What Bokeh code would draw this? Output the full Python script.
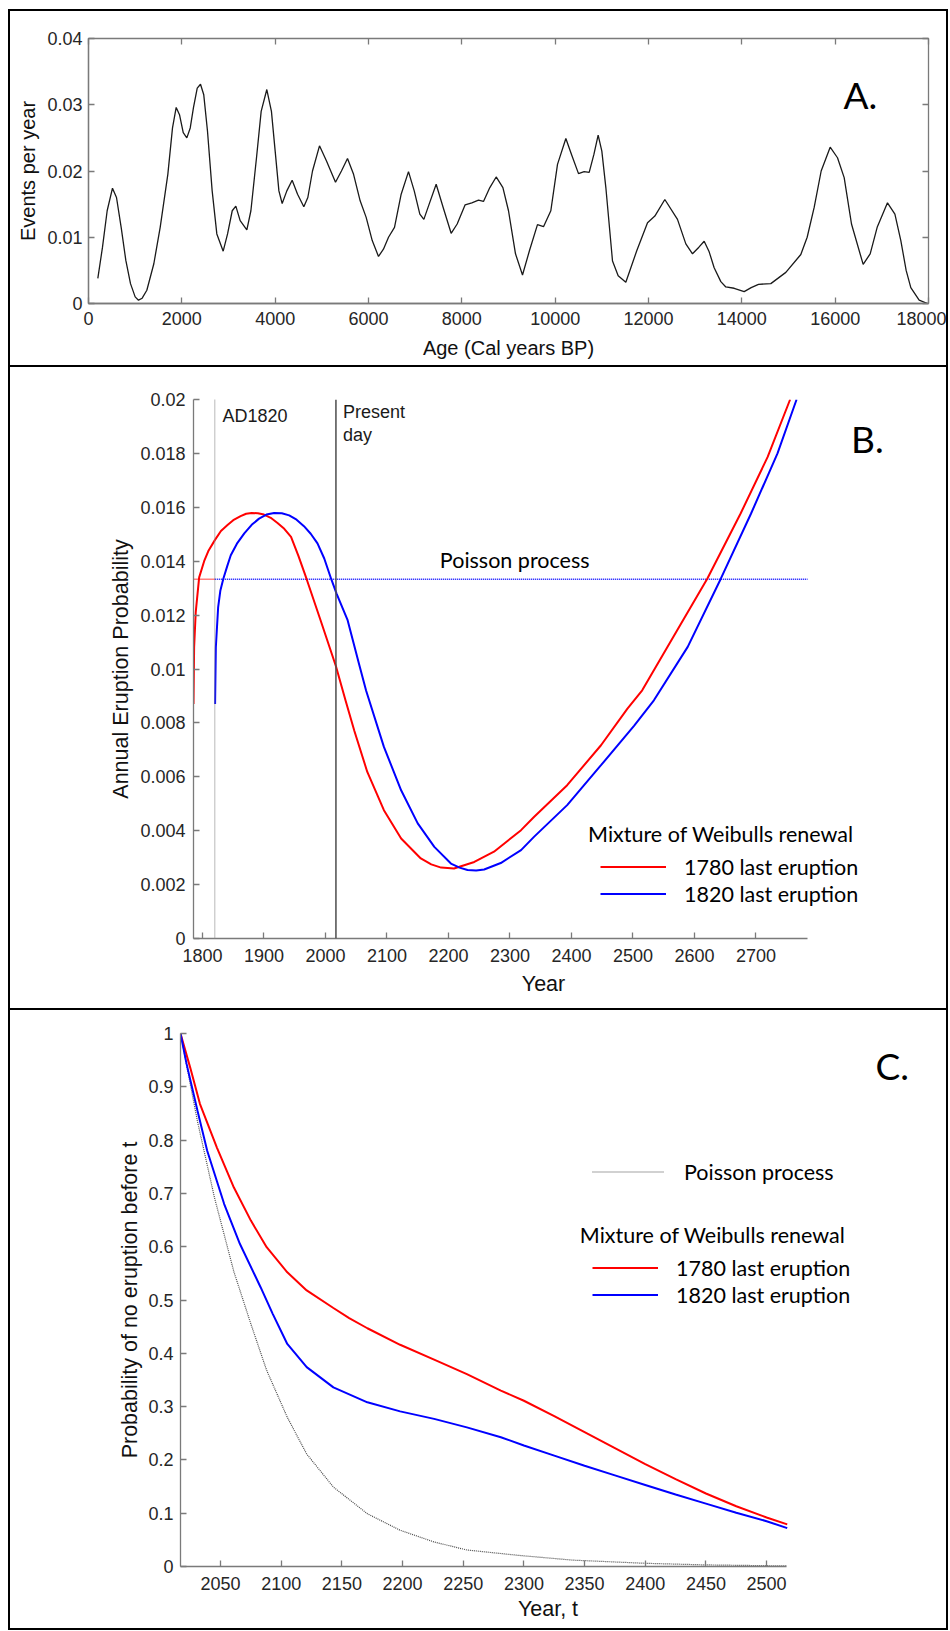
from bokeh.plotting import figure
from bokeh.models import (Range1d, FixedTicker, CustomJSTickFormatter, LinearAxis,
                          Span, Label, Legend, LegendItem)
from bokeh.layouts import column
from bokeh.embed import file_html
from bokeh.resources import INLINE

# ---------------- data ----------------
# Panel A: events per year vs age
a_age = [200, 300, 400, 514, 600, 700, 800, 900, 1000, 1071, 1150, 1250, 1400, 1536, 1700, 1800,
         1879, 1950, 2030, 2107, 2180, 2250, 2330, 2400, 2470, 2550, 2650, 2750, 2886, 2980,
         3080, 3157, 3250, 3393, 3480, 3600, 3700, 3821, 3920, 4000, 4080, 4150, 4250, 4364,
         4480, 4614, 4700, 4800, 4950, 5100, 5293, 5420, 5550, 5680, 5821, 5950, 6080, 6214,
         6320, 6429, 6557, 6700, 6857, 6980, 7100, 7186, 7300, 7450, 7600, 7771, 7900, 8071,
         8214, 8357, 8464, 8600, 8736, 8880, 9000, 9150, 9300, 9450, 9621, 9750, 9907, 10050,
         10229, 10350, 10500, 10621, 10729, 10830, 10921, 11000, 11086, 11229, 11350, 11514,
         11750, 11979, 12136, 12350, 12621, 12800, 12943, 13080, 13193, 13300, 13407, 13550,
         13657, 13836, 14050, 14200, 14357, 14621, 14943, 15264, 15400, 15550, 15700, 15893,
         16050, 16193, 16350, 16600, 16750, 16900, 17121, 17280, 17407, 17521, 17621, 17800, 17979]
a_rate = [0.0038, 0.0085, 0.0140, 0.0174, 0.0160, 0.0115, 0.0065, 0.0030, 0.0010, 0.0005, 0.0008,
          0.0020, 0.0060, 0.0115, 0.0195, 0.0265, 0.0296, 0.0285, 0.0258, 0.0250, 0.0265, 0.0296,
          0.0325, 0.0331, 0.0315, 0.0260, 0.0170, 0.0105, 0.0079, 0.0105, 0.0140, 0.0147, 0.0125,
          0.0111, 0.0140, 0.0220, 0.0290, 0.0323, 0.0290, 0.0230, 0.0170, 0.0151, 0.0170, 0.0186,
          0.0165, 0.0146, 0.0160, 0.0200, 0.0238, 0.0215, 0.0183, 0.0200, 0.0219, 0.0195, 0.0155,
          0.0130, 0.0095, 0.0071, 0.0082, 0.0100, 0.0115, 0.0165, 0.0199, 0.0170, 0.0135, 0.0127,
          0.0150, 0.0180, 0.0145, 0.0106, 0.0120, 0.0149, 0.0152, 0.0156, 0.0154, 0.0175, 0.0191,
          0.0175, 0.0140, 0.0075, 0.0043, 0.0080, 0.0119, 0.0116, 0.0140, 0.0210, 0.0249, 0.0225,
          0.0196, 0.0199, 0.0198, 0.0225, 0.0254, 0.0230, 0.0175, 0.0064, 0.0042, 0.0032, 0.0080,
          0.0122, 0.0132, 0.0157, 0.0127, 0.0090, 0.0075, 0.0085, 0.0094, 0.0078, 0.0054, 0.0033,
          0.0025, 0.0023, 0.0018, 0.0024, 0.0029, 0.0030, 0.0047, 0.0074, 0.0100, 0.0145, 0.0200,
          0.0236, 0.0220, 0.0190, 0.0120, 0.0059, 0.0075, 0.0115, 0.0152, 0.0135, 0.0095, 0.0050,
          0.0024, 0.0005, 0.0000]
a_xticks = [0, 2000, 4000, 6000, 8000, 10000, 12000, 14000, 16000, 18000]
a_yticks = [0, 0.01, 0.02, 0.03, 0.04]

# Panel B: annual eruption probability
b_red_year = [1785.4, 1786.4, 1789, 1794.6, 1802.7, 1810, 1820.6, 1830, 1840.7, 1850, 1862, 1871,
              1880, 1890, 1900, 1911, 1922, 1933, 1944, 1956, 1969, 1992, 2017, 2033, 2047, 2068,
              2095, 2123, 2155, 2172, 2188, 2209, 2242, 2274, 2318, 2339, 2393, 2448, 2491, 2515,
              2556, 2621, 2675, 2719, 2755.5]
b_red_prob = [0.0087, 0.0108, 0.0121, 0.0134, 0.0140, 0.0144, 0.0148, 0.01512, 0.01534, 0.01552,
              0.01567, 0.01576, 0.01579, 0.01578, 0.01573, 0.01561, 0.01542, 0.0152, 0.0149,
              0.0142, 0.01336, 0.01181, 0.0101, 0.0088, 0.0077, 0.00618, 0.00476, 0.00371,
              0.00297, 0.00275, 0.00263, 0.0026, 0.00284, 0.00322, 0.00402, 0.00451, 0.00569,
              0.00717, 0.00853, 0.00921, 0.01082, 0.01336, 0.01577, 0.01787, 0.0200]
b_blue_year = [1820.5, 1821.7, 1825.5, 1829, 1834, 1840, 1846, 1856, 1868, 1880, 1892, 1904, 1916.5,
               1929, 1941, 1953, 1965, 1976, 1987, 1998, 2009, 2018, 2036, 2055, 2066, 2095, 2123,
               2150, 2177, 2204, 2218, 2231, 2245, 2258, 2285, 2318, 2339, 2393, 2448, 2502, 2534,
               2589, 2643, 2692, 2735, 2766]
b_blue_prob = [0.0087, 0.0108, 0.0123, 0.0129, 0.01336, 0.0138, 0.01422, 0.01465, 0.01503, 0.01535,
               0.01558, 0.01573, 0.01579, 0.01578, 0.0157, 0.01554, 0.0153, 0.01502, 0.01466,
               0.0141, 0.01336, 0.0128, 0.01181, 0.01015, 0.0092, 0.00711, 0.0055, 0.00427, 0.0034,
               0.00278, 0.00263, 0.00254, 0.00252, 0.00256, 0.0028, 0.00328, 0.00377, 0.00495,
               0.00643, 0.0079, 0.00884, 0.01082, 0.01336, 0.01577, 0.0180, 0.0200]
b_poisson_rate = 0.01333
b_poisson_red_x = [1785.4, 1820]
b_poisson_blue_x = [1820, 2783.7]
b_ad1820 = 1820
b_present_day = 2017
b_xticks = [1800, 1900, 2000, 2100, 2200, 2300, 2400, 2500, 2600, 2700]
b_yticks = [0, 0.002, 0.004, 0.006, 0.008, 0.01, 0.012, 0.014, 0.016, 0.018, 0.02]

# Panel C: probability of no eruption before t
c_red_year = [2017, 2025, 2033, 2047, 2061, 2075, 2088, 2105, 2121, 2143, 2156, 2171, 2198, 2226,
              2253, 2281, 2300, 2325, 2350, 2375, 2400, 2425, 2450, 2475, 2500, 2517]
c_red = [1.0, 0.936, 0.868, 0.786, 0.711, 0.649, 0.599, 0.552, 0.518, 0.485, 0.466, 0.447, 0.416,
         0.388, 0.361, 0.330, 0.311, 0.282, 0.252, 0.222, 0.192, 0.164, 0.137, 0.113, 0.092, 0.079]
c_blue_year = [2017, 2022, 2031, 2039, 2053, 2066, 2083, 2093, 2105, 2121, 2143, 2171, 2198, 2226,
               2253, 2281, 2300, 2325, 2350, 2375, 2400, 2425, 2450, 2475, 2500, 2517]
c_blue = [1.0, 0.943, 0.855, 0.780, 0.680, 0.605, 0.524, 0.474, 0.4175, 0.374, 0.336, 0.308, 0.291,
          0.277, 0.261, 0.2425, 0.227, 0.208, 0.189, 0.171, 0.153, 0.135, 0.118, 0.101, 0.085, 0.072]
c_pois_year = [2017, 2031, 2045, 2061, 2075, 2088, 2105, 2121, 2143, 2171, 2198, 2226, 2253, 2295,
               2340, 2400, 2450, 2517]
c_pois = [1.0, 0.835, 0.692, 0.553, 0.455, 0.368, 0.280, 0.211, 0.149, 0.099, 0.068, 0.046, 0.031,
          0.021, 0.012, 0.006, 0.003, 0.001]
c_xticks = [2050, 2100, 2150, 2200, 2250, 2300, 2350, 2400, 2450, 2500]
c_yticks = [0, 0.1, 0.2, 0.3, 0.4, 0.5, 0.6, 0.7, 0.8, 0.9, 1.0]

# ---------------- styling helpers ----------------
AXIS_GRAY = "#7a7a7a"
TICK_FONT = "Liberation Sans"
CAL_FONT = "Lato"
RED = "#ff0000"
BLUE = "#0000ff"


def num_fmt():
    return CustomJSTickFormatter(code="return String(parseFloat(tick.toFixed(6)));")


def base_fig(width, height, xr, yr, left, right, top, bottom):
    p = figure(width=width, height=height, x_range=Range1d(*xr), y_range=Range1d(*yr),
               toolbar_location=None, output_backend="svg", title=None,
               min_border_left=left, min_border_right=right,
               min_border_top=top, min_border_bottom=bottom,
               styles={"background-color": "white"})
    p.frame_align = False
    p.grid.visible = False
    p.outline_line_color = None
    p.background_fill_color = "white"
    p.border_fill_color = "white"
    return p


def style_axis(ax, ticks, standoff, label, label_size, label_standoff):
    ax.ticker = FixedTicker(ticks=ticks, minor_ticks=[])
    ax.formatter = num_fmt()
    ax.axis_line_color = AXIS_GRAY
    ax.axis_line_width = 1.3
    ax.major_tick_line_color = AXIS_GRAY
    ax.major_tick_line_width = 1.3
    ax.major_tick_in = 6
    ax.major_tick_out = 0
    ax.minor_tick_line_color = None
    ax.major_label_text_font = TICK_FONT
    ax.major_label_text_font_size = "18px"
    ax.major_label_text_color = "#262626"
    ax.major_label_standoff = standoff
    ax.axis_label = label
    ax.axis_label_text_font = TICK_FONT
    ax.axis_label_text_font_style = "normal"
    ax.axis_label_text_font_size = label_size
    ax.axis_label_text_color = "#111111"
    ax.axis_label_standoff = label_standoff


def text_label(x, y, text, font, size, color="black"):
    return Label(x=x, y=y, text=text, text_font=font, text_font_size=size,
                 text_color=color, text_baseline="middle")


# ---------------- Panel A ----------------
pA = base_fig(936, 354, (0, 18000), (0, 0.04), 78, 18, 27, 62)
pA.outline_line_color = AXIS_GRAY
pA.outline_line_width = 1.3
style_axis(pA.xaxis[0], a_xticks, 8, "Age (Cal years BP)", "20px", 9)
style_axis(pA.yaxis[0], a_yticks, 6, "Events per year", "20px", 5)
for loc, ticks in (("above", a_xticks), ("right", a_yticks)):
    ax = LinearAxis(ticker=FixedTicker(ticks=ticks, minor_ticks=[]),
                    formatter=CustomJSTickFormatter(code="return '';"))
    ax.axis_line_color = None
    ax.major_tick_line_color = AXIS_GRAY
    ax.major_tick_line_width = 1.3
    ax.major_tick_in = 6
    ax.major_tick_out = 0
    ax.minor_tick_line_color = None
    ax.major_label_standoff = 0
    ax.major_label_text_font_size = "1px"
    pA.add_layout(ax, loc)
pA.line(a_age, a_rate, line_color="#1a1a1a", line_width=1.3)
pA.add_layout(text_label(16178, 0.03155, "A.", CAL_FONT, "37px"))

# ---------------- Panel B ----------------
pB = base_fig(936, 641, (1785.4, 2923.6), (0, 0.02), 183, 53, 32, 70)
style_axis(pB.xaxis[0], b_xticks, 10, "Year", "21.5px", 7)
style_axis(pB.yaxis[0], b_yticks, 8, "Annual Eruption Probability", "21.5px", 4)
pB.xaxis[0].bounds = (1785.4, 2783.7)

pB.add_layout(Span(location=b_ad1820, dimension="height", line_color="#8a8a8a",
                   line_width=1.2, line_dash="1 1"))
pB.add_layout(Span(location=b_present_day, dimension="height", line_color="#4d4d4d",
                   line_width=1.5))
pB.line(b_poisson_red_x, [b_poisson_rate] * len(b_poisson_red_x), line_color=RED,
        line_width=1.5, line_dash="1 1")
pB.line(b_poisson_blue_x, [b_poisson_rate] * len(b_poisson_blue_x), line_color=BLUE,
        line_width=1.5, line_dash="1 1")
rB_red = pB.line(b_red_year, b_red_prob, line_color=RED, line_width=2)
rB_blue = pB.line(b_blue_year, b_blue_prob, line_color=BLUE, line_width=2)

pB.add_layout(text_label(1832.5, 0.019399, "AD1820", TICK_FONT, "18px", "#1a1a1a"))
pB.add_layout(text_label(2028.6, 0.019529, "Present", TICK_FONT, "18px", "#1a1a1a"))
pB.add_layout(text_label(2028.6, 0.018683, "day", TICK_FONT, "18px", "#1a1a1a"))
pB.add_layout(text_label(2186, 0.014052, "Poisson process", CAL_FONT, "21.5px"))
pB.add_layout(text_label(2854.5, 0.018571, "B.", CAL_FONT, "37px"))
pB.add_layout(text_label(2427, 0.00387, "Mixture of Weibulls renewal", CAL_FONT, "21.5px"))
legB = Legend(items=[LegendItem(label="1780 last eruption", renderers=[rB_red]),
                     LegendItem(label="1820 last eruption", renderers=[rB_blue])],
              location=(407, 31), padding=0, margin=0, spacing=0,
              glyph_width=66, glyph_height=27, label_height=27, label_standoff=18,
              label_text_font=CAL_FONT, label_text_font_size="21.5px", label_text_color="black",
              border_line_color=None, background_fill_alpha=0)
pB.add_layout(legB)

# ---------------- Panel C ----------------
pC = base_fig(936, 618, (2017, 2622.7), (0, 1), 170, 31, 23, 62)
style_axis(pC.xaxis[0], c_xticks, 10, "Year, t", "21.5px", 4)
style_axis(pC.yaxis[0], c_yticks, 7, "Probability of no eruption before t", "21.5px", 3)
pC.xaxis[0].bounds = (2017, 2516.7)

rC_pois = pC.line(c_pois_year, c_pois, line_color="#4a4a4a", line_width=1.2, line_dash="1 1")
rC_red = pC.line(c_red_year, c_red, line_color=RED, line_width=2)
rC_blue = pC.line(c_blue_year, c_blue, line_color=BLUE, line_width=2)

pC.add_layout(text_label(2589.8, 0.9407, "C.", CAL_FONT, "37px"))
pC.add_layout(text_label(2346.1, 0.6222, "Mixture of Weibulls renewal", CAL_FONT, "21.5px"))
legC1 = Legend(items=[LegendItem(label="Poisson process", renderers=[rC_pois])],
               location=(412, 381), padding=0, margin=0, spacing=0,
               glyph_width=72, glyph_height=27, label_height=27, label_standoff=20,
               label_text_font=CAL_FONT, label_text_font_size="21.5px", label_text_color="black",
               border_line_color=None, background_fill_alpha=0)
legC2 = Legend(items=[LegendItem(label="1780 last eruption", renderers=[rC_red]),
                      LegendItem(label="1820 last eruption", renderers=[rC_blue])],
               location=(412, 258), padding=0, margin=0, spacing=0,
               glyph_width=66, glyph_height=27, label_height=27, label_standoff=18,
               label_text_font=CAL_FONT, label_text_font_size="21.5px", label_text_color="black",
               border_line_color=None, background_fill_alpha=0)
pC.add_layout(legC1)
pC.add_layout(legC2)

layout = column(pA, pB, pC, spacing=2, margin=(9, 0, 0, 8),
                styles={"background-color": "black", "padding": "2px"})

open("out.html", "w").write(file_html(layout, INLINE))
